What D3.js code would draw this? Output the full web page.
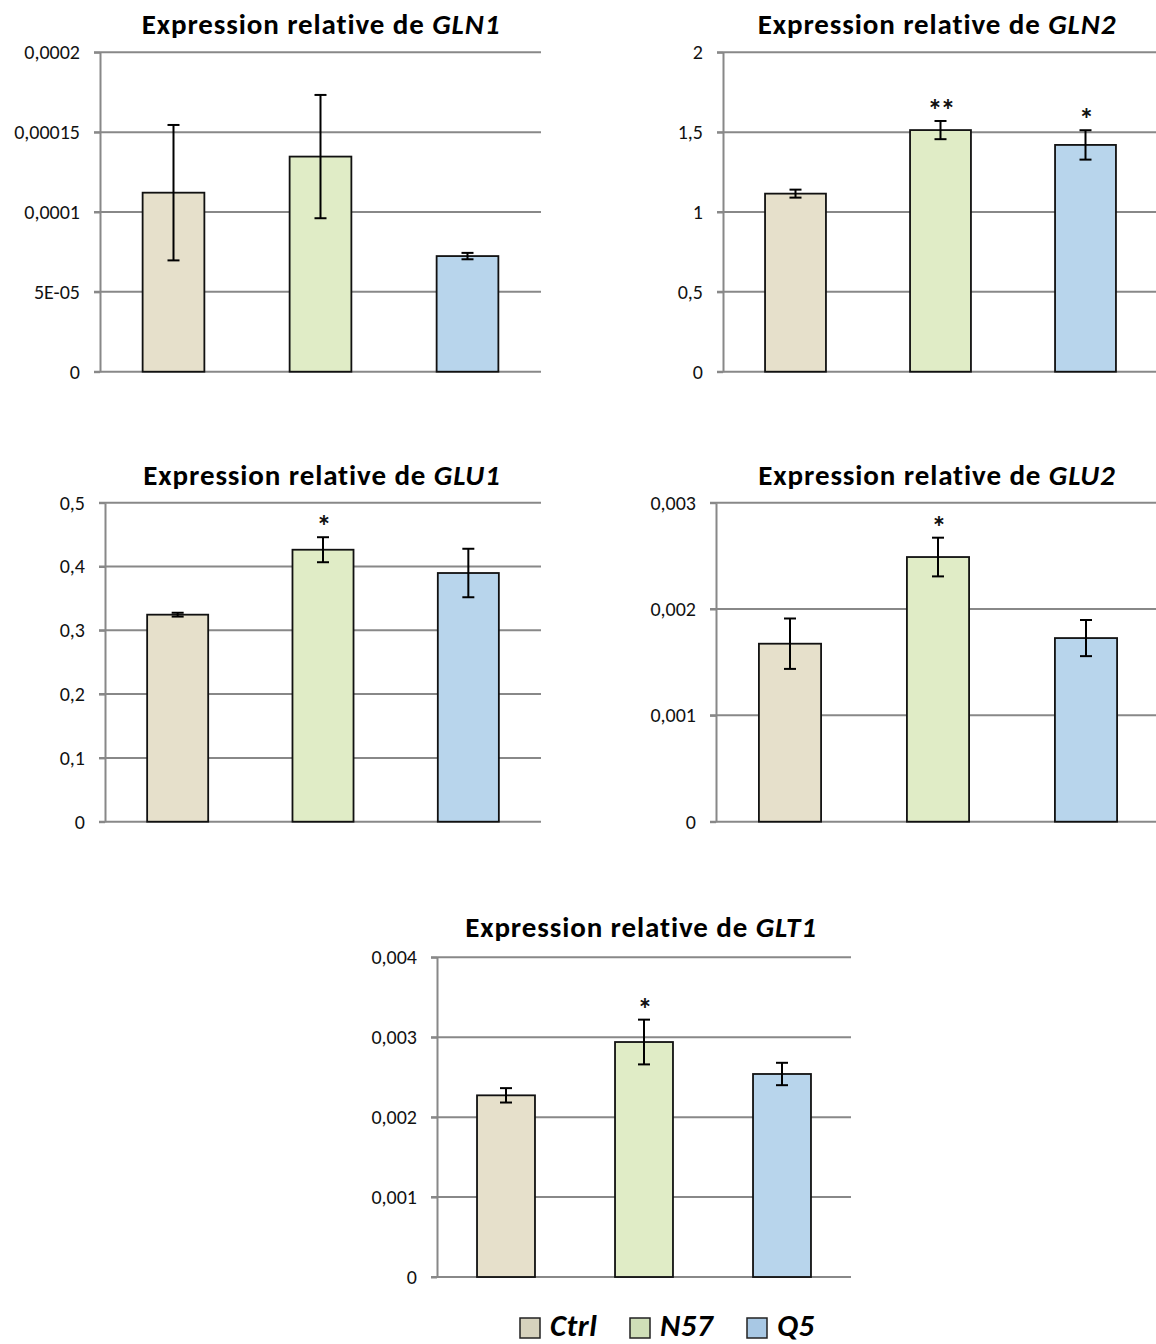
<!DOCTYPE html>
<html>
<head>
<meta charset="utf-8">
<script src="https://cdn.jsdelivr.net/npm/d3@7"></script>
<style>
  html, body { margin: 0; padding: 0; background: #fff; }
  svg { display: block; }
  text { font-family: Carlito, Calibri, Lato, "Open Sans", sans-serif; }
</style>
</head>
<body>
<svg id="chart" width="1156" height="1344"></svg>
<script>
// ---------- DATA ----------
const groups = ["Ctrl", "N57", "Q5"];
const genes = ["GLN1", "GLN2", "GLU1", "GLU2", "GLT1"];

const gln1Means = [0.0001121, 0.0001347, 0.0000724];
const gln1Errors = [0.0000424, 0.0000386, 0.0000020];
const gln1Stars = ["", "", ""];
const gln1TickValues = [0, 0.00005, 0.0001, 0.00015, 0.0002];
const gln1TickLabels = ["0", "5E-05", "0,0001", "0,00015", "0,0002"];

const gln2Means = [1.115, 1.513, 1.420];
const gln2Errors = [0.025, 0.057, 0.092];
const gln2Stars = ["", "**", "*"];
const gln2TickValues = [0, 0.5, 1, 1.5, 2];
const gln2TickLabels = ["0", "0,5", "1", "1,5", "2"];

const glu1Means = [0.3245, 0.4263, 0.3898];
const glu1Errors = [0.0030, 0.0196, 0.0380];
const glu1Stars = ["", "*", ""];
const glu1TickValues = [0, 0.1, 0.2, 0.3, 0.4, 0.5];
const glu1TickLabels = ["0", "0,1", "0,2", "0,3", "0,4", "0,5"];

const glu2Means = [0.001674, 0.002489, 0.001727];
const glu2Errors = [0.000237, 0.000182, 0.000170];
const glu2Stars = ["", "*", ""];
const glu2TickValues = [0, 0.001, 0.002, 0.003];
const glu2TickLabels = ["0", "0,001", "0,002", "0,003"];

const glt1Means = [0.002273, 0.002940, 0.002540];
const glt1Errors = [0.000090, 0.000280, 0.000140];
const glt1Stars = ["", "*", ""];
const glt1TickValues = [0, 0.001, 0.002, 0.003, 0.004];
const glt1TickLabels = ["0", "0,001", "0,002", "0,003", "0,004"];

// ---------- STYLE ----------
const barColors = ["#e6e0cb", "#e0ecc6", "#b8d5ec"];
const legendColors = ["#d6d2bd", "#cfdfb8", "#a8c8e4"];
const gridColor = "#888888";

const panels = [
  { gene: genes[0], means: gln1Means, errors: gln1Errors, stars: gln1Stars, tv: gln1TickValues, tl: gln1TickLabels,
    x0: 100, x1: 541, top: 52.3, bottom: 371.7, titleX: 321, titleY: 34 },
  { gene: genes[1], means: gln2Means, errors: gln2Errors, stars: gln2Stars, tv: gln2TickValues, tl: gln2TickLabels,
    x0: 723, x1: 1158, top: 52.3, bottom: 371.7, titleX: 937, titleY: 34 },
  { gene: genes[2], means: glu1Means, errors: glu1Errors, stars: glu1Stars, tv: glu1TickValues, tl: glu1TickLabels,
    x0: 105, x1: 541, top: 502.7, bottom: 821.7, titleX: 322, titleY: 485 },
  { gene: genes[3], means: glu2Means, errors: glu2Errors, stars: glu2Stars, tv: glu2TickValues, tl: glu2TickLabels,
    x0: 716, x1: 1160, top: 502.7, bottom: 821.7, titleX: 937, titleY: 485 },
  { gene: genes[4], means: glt1Means, errors: glt1Errors, stars: glt1Stars, tv: glt1TickValues, tl: glt1TickLabels,
    x0: 437, x1: 851, top: 957.3, bottom: 1277, titleX: 641, titleY: 937 }
];

const svg = d3.select("#chart");
svg.append("rect").attr("width", 1156).attr("height", 1344).attr("fill", "#fff");

panels.forEach(p => {
  const g = svg.append("g");
  const y = d3.scaleLinear()
    .domain([p.tv[0], p.tv[p.tv.length - 1]])
    .range([p.bottom, p.top]);
  const x = d3.scaleBand()
    .domain(groups)
    .range([p.x0, p.x1])
    .paddingInner(0.58)
    .paddingOuter(0.29);

  // gridlines
  g.append("g").selectAll("line").data(p.tv).join("line")
    .attr("x1", p.x0 - 6).attr("x2", Math.min(p.x1, 1156))
    .attr("y1", d => y(d)).attr("y2", d => y(d))
    .attr("stroke", gridColor).attr("stroke-width", 2);

  // y axis with tick labels
  const axis = d3.axisLeft(y)
    .tickValues(p.tv)
    .tickFormat((d, i) => p.tl[i])
    .tickSize(6)
    .tickSizeOuter(0)
    .tickPadding(14);
  const ag = g.append("g").attr("transform", `translate(${p.x0},0)`).call(axis);
  ag.select(".domain").attr("stroke", gridColor).attr("stroke-width", 2);
  ag.selectAll(".tick line").attr("stroke", gridColor).attr("stroke-width", 2);
  ag.selectAll(".tick text")
    .attr("fill", "#111")
    .style("font-size", "20px")
    .style("font-family", "Carlito, Calibri, Lato, sans-serif");

  // bars
  g.append("g").selectAll("rect").data(groups).join("rect")
    .attr("x", d => x(d))
    .attr("width", x.bandwidth())
    .attr("y", (d, i) => y(p.means[i]))
    .attr("height", (d, i) => y(0) - y(p.means[i]))
    .attr("fill", (d, i) => barColors[i])
    .attr("stroke", "#111")
    .attr("stroke-width", 1.8);

  // error bars
  const eb = g.append("g").attr("stroke", "#000").attr("stroke-width", 2);
  groups.forEach((grp, i) => {
    const cx = x(grp) + x.bandwidth() / 2;
    const yt = y(p.means[i] + p.errors[i]);
    const yb = y(p.means[i] - p.errors[i]);
    eb.append("line").attr("x1", cx).attr("x2", cx).attr("y1", yt).attr("y2", yb);
    eb.append("line").attr("x1", cx - 6).attr("x2", cx + 6).attr("y1", yt).attr("y2", yt);
    eb.append("line").attr("x1", cx - 6).attr("x2", cx + 6).attr("y1", yb).attr("y2", yb);
    if (p.stars[i]) {
      g.append("text")
        .attr("x", cx)
        .attr("y", yt - 1)
        .attr("text-anchor", "middle")
        .style("font-size", "30px")
        .style("font-weight", "bold")
        .style("letter-spacing", "-2px")
        .attr("fill", "#111")
        .text(p.stars[i]);
    }
  });

  // title
  const t = g.append("text")
    .attr("x", p.titleX).attr("y", p.titleY)
    .attr("text-anchor", "middle")
    .style("font-size", "29px")
    .style("font-weight", "bold")
    .style("letter-spacing", "0.9px")
    .attr("fill", "#000");
  t.append("tspan").text("Expression relative de ");
  t.append("tspan").style("font-style", "italic").text(p.gene);
});

// legend
const legendSquareX = [520, 630, 747];
const lg = svg.append("g");
groups.forEach((grp, i) => {
  lg.append("rect")
    .attr("x", legendSquareX[i]).attr("y", 1318)
    .attr("width", 20).attr("height", 20)
    .attr("fill", legendColors[i])
    .attr("stroke", "#222").attr("stroke-width", 1.5);
  lg.append("text")
    .attr("x", legendSquareX[i] + 30).attr("y", 1336)
    .style("font-size", "31px")
    .style("font-weight", "bold")
    .style("font-style", "italic")
    .style("letter-spacing", "0.5px")
    .attr("fill", "#000")
    .text(grp);
});
</script>
</body>
</html>
